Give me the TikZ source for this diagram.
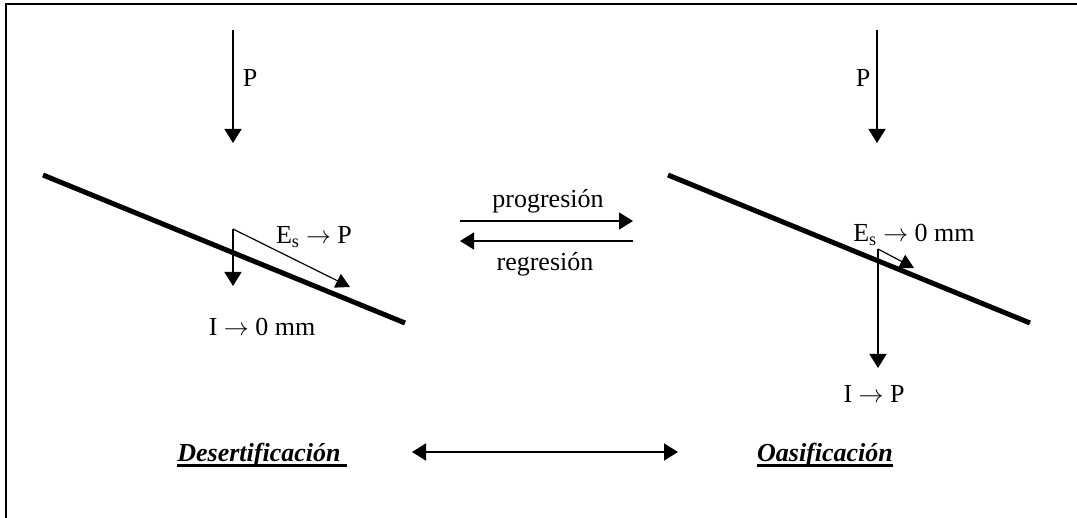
\documentclass[tikz,border=0pt]{standalone}
\usepackage{fontspec}
\setmainfont{Liberation Serif}
\usetikzlibrary{arrows.meta}
\tikzset{
  lbl/.style={font=\fontsize{26}{30}\selectfont, inner sep=0pt},
  ttl/.style={font=\fontsize{26}{30}\selectfont\bfseries\itshape, inner sep=0pt, anchor=base},
  arr/.style={line width=1.5pt, -{Triangle[length=14pt,width=17pt]}},
  darr/.style={line width=1.5pt, {Triangle[length=14pt,width=17pt]}-{Triangle[length=14pt,width=17pt]}},
  thinarr/.style={line width=1.2pt, -{Triangle[length=14pt,width=15pt]}},
  slope/.style={line width=5pt},
  uline/.style={line width=3pt},
}
\begin{document}
\begin{tikzpicture}[x=1pt,y=-1pt]
\useasboundingbox (0,0) rectangle (1077,518);
% frame
\draw[line width=2.5pt] (6,518) -- (6,4) -- (1077,4);
% coordinates
\coordinate (pl1) at (233,30); \coordinate (pl2) at (233,143);
\coordinate (pr1) at (877,30); \coordinate (pr2) at (877,143);
\coordinate (sl1) at (43,175); \coordinate (sl2) at (405,323);
\coordinate (sr1) at (668,175); \coordinate (sr2) at (1030,323);
\coordinate (cl) at (233,229); \coordinate (cld) at (233,286); \coordinate (cle) at (350,287);
\coordinate (cr) at (878,249); \coordinate (crd) at (878,368); \coordinate (cre) at (914,268);
\coordinate (g1) at (460,221); \coordinate (g2) at (633,221);
\coordinate (r1) at (633,241); \coordinate (r2) at (460,241);
\coordinate (b1) at (412,452); \coordinate (b2) at (678,452);
% P arrows
\draw[arr] (pl1) -- (pl2);
\draw[arr] (pr1) -- (pr2);
\node[lbl] (plab) at (250,78) {P};
\node[lbl] (prab) at (863,78) {P};
% slopes
\draw[slope] (sl1) -- (sl2);
\draw[slope] (sr1) -- (sr2);
% left runoff/infiltration
\draw[arr] (cl) -- (cld);
\draw[thinarr] (cl) -- (cle);
\node[lbl] (esl) at (314,237) {E\textsubscript{s} $\rightarrow$ P};
\node[lbl] (il) at (262,327) {I $\rightarrow$ 0 mm};
% right
\draw[arr] (cr) -- (crd);
\draw[thinarr] (cr) -- (cre);
\node[lbl] (esr) at (914,235) {E\textsubscript{s} $\rightarrow$ 0 mm};
\node[lbl] (ir) at (874,394) {I $\rightarrow$ P};
% middle
\node[lbl] (prog) at (548,201) {progresión};
\node[lbl] (regr) at (545,264) {regresión};
\draw[arr] (g1) -- (g2);
\draw[arr] (r1) -- (r2);
% bottom
\node[ttl] (des) at (259,462) {Desertificación};
\node[ttl] (oas) at (825,462) {Oasificación};
\draw[uline] ([yshift=-4pt]des.base west) -- ([yshift=-4pt,xshift=6pt]des.base east);
\draw[uline] ([yshift=-4pt]oas.base west) -- ([yshift=-4pt]oas.base east);
\draw[darr] (b1) -- (b2);
\end{tikzpicture}
\end{document}
